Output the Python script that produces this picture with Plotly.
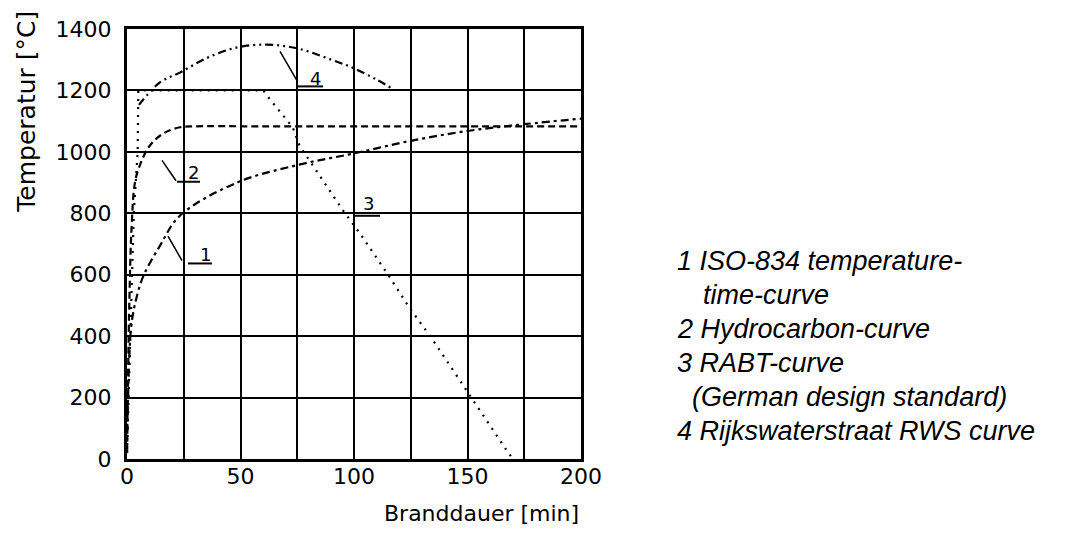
import plotly.graph_objects as go

# ---- data ----
iso_t = [0, 1, 2, 3.5, 7, 14.5, 23.3, 48.5, 75, 100, 125, 150, 175, 200]
iso_T = [20, 330, 440, 504, 592, 694, 792, 900, 957, 995, 1036, 1068, 1090, 1108]

hc_t = [0, 1, 2, 3.5, 5.7, 10, 16, 23.3, 30, 60, 100, 150, 200]
hc_T = [20, 500, 750, 900, 957, 1020, 1060, 1080, 1083, 1083, 1083, 1083, 1083]

rabt_t = [0, 1.5, 3, 4.7, 5, 60, 62, 73, 76, 95, 103.5, 116, 124, 134.5, 148, 152.5, 167.5, 170]
rabt_T = [20, 400, 800, 1000, 1200, 1200, 1180, 1080, 1020, 811, 725, 589, 497, 390, 240, 190, 25, 0]

rws_t = [5.3, 7, 14.5, 23.3, 35, 48.5, 61.7, 75, 90, 99.6, 110, 117]
rws_T = [1153, 1169, 1226, 1258, 1305, 1340, 1349, 1337, 1300, 1273, 1235, 1205]

x_ticks = [0, 50, 100, 150, 200]
y_ticks = [0, 200, 400, 600, 800, 1000, 1200, 1400]

legend_lines = [
    "<i>1 ISO-834 temperature-</i>",
    "<i>time-curve</i>",
    "<i>2 Hydrocarbon-curve</i>",
    "<i>3 RABT-curve</i>",
    "<i>(German design standard)</i>",
    "<i>4 Rijkswaterstraat RWS curve</i>",
]

OFF = 8  # page body margin
W, H = 1069 - 2 * OFF, 538 - 2 * OFF
L, R, T, B = 127, 581, 17, 459  # plot area in reference pixels

fig = go.Figure()
fig.add_trace(go.Scatter(x=iso_t, y=iso_T, mode="lines", line=dict(color="black", width=2.2, dash="8px,4px,3px,4px"), line_shape="spline"))
fig.add_trace(go.Scatter(x=hc_t, y=hc_T, mode="lines", line=dict(color="black", width=2.2, dash="7px,4px"), line_shape="spline"))
fig.add_trace(go.Scatter(x=rabt_t, y=rabt_T, mode="lines", line=dict(color="black", width=2.2, dash="2px,6px")))
fig.add_trace(go.Scatter(x=rws_t, y=rws_T, mode="lines", line=dict(color="black", width=2.2, dash="8px,4px,2px,4px,2px,4px"), line_shape="spline"))

px_x = 200 / (R - L)
px_y = 1400 / (B - T)

def dx(p):
    return (p - L) * px_x

def dy(p):
    return (B - p) * px_y

# numbered curve labels with underline and leader
labels = [
    ("1", 205, 249, (188, 212, 258), [(168, 230), (182, 255)]),
    ("2", 193, 165, (177, 200, 174), [(162, 152), (176, 173)]),
    ("3", 368, 196, (355, 380, 209), None),
    ("4", 315, 68, (297, 323, 76), [(280, 40), (297, 70)]),
]
shapes = []
annotations = []
for txt, tx, ty, ul, leader in labels:
    annotations.append(dict(x=dx(tx), y=dy(ty), xref="x", yref="y", text=txt, showarrow=False,
                            font=dict(family="DejaVu Sans", size=18, color="black")))
    shapes.append(dict(type="line", xref="x", yref="y", x0=dx(ul[0]), x1=dx(ul[1]), y0=dy(ul[2]), y1=dy(ul[2]),
                       line=dict(color="black", width=2)))
    if leader:
        shapes.append(dict(type="line", xref="x", yref="y", x0=dx(leader[0][0]), y0=dy(leader[0][1]),
                           x1=dx(leader[1][0]), y1=dy(leader[1][1]), line=dict(color="black", width=1.5)))

# legend text block
pw, ph = R - L, B - T
leg_pos = [(675, 255), (701, 290), (675, 325), (675, 360), (690, 395), (675, 430)]
for line, (lx, ly) in zip(legend_lines, leg_pos):
    annotations.append(dict(x=(lx - L) / pw, y=(B - ly) / ph, xref="paper", yref="paper", text=line,
                            showarrow=False, xanchor="left", yanchor="middle",
                            font=dict(family="Liberation Sans", size=27, color="black")))

# axis titles
annotations.append(dict(x=1.0, y=(B - 530) / ph, xref="paper", yref="paper", text="Branddauer [min]",
                        showarrow=False, xanchor="right", yanchor="bottom",
                        font=dict(family="DejaVu Sans", size=22, color="black")))
annotations.append(dict(x=(27 - L) / pw, y=(B - 102) / ph, xref="paper", yref="paper", text="Temperatur [°C]",
                        showarrow=False, xanchor="center", yanchor="middle", textangle=-90,
                        font=dict(family="DejaVu Sans", size=25, color="black")))

fig.update_layout(
    width=W, height=H,
    margin=dict(l=L - OFF, r=(1069 - OFF) - R, t=T - OFF, b=(538 - OFF) - B, pad=0),
    paper_bgcolor="white", plot_bgcolor="white",
    showlegend=False,
    shapes=shapes, annotations=annotations,
    font=dict(family="DejaVu Sans", size=22, color="black"),
)
fig.update_xaxes(range=[0, 200], tickvals=x_ticks, showgrid=True,
                 gridcolor="black", gridwidth=1.6, zeroline=False,
                 showline=True, linecolor="black", linewidth=3, mirror=True,
                 ticks="", ticklabelstandoff=-4, ticklabeloverflow="allow",
                 minor=dict(tickvals=[25, 75, 125, 175], showgrid=True, gridcolor="black", gridwidth=1.6))
fig.update_yaxes(range=[0, 1400], tickvals=y_ticks, showgrid=True,
                 gridcolor="black", gridwidth=1.6, zeroline=False,
                 showline=True, linecolor="black", linewidth=3, mirror=True,
                 ticks="outside", ticklen=8, tickcolor="rgba(0,0,0,0)", ticklabeloverflow="allow")

fig.write_html("out.html")
